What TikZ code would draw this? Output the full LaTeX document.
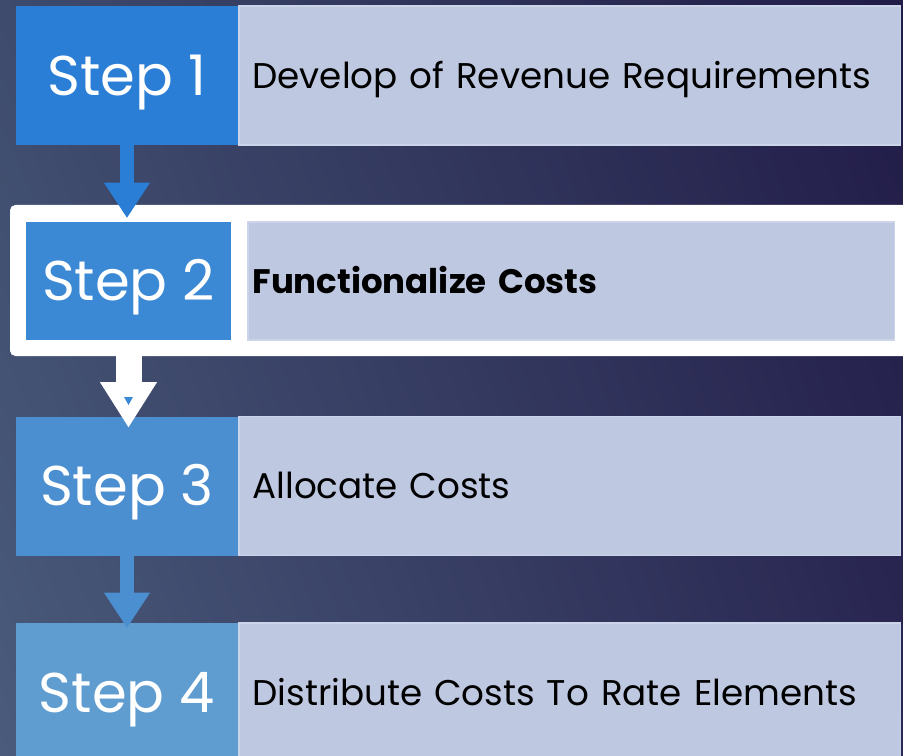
\documentclass[tikz,border=0pt]{standalone}
\usepackage{fontspec}
\setmainfont{Poppins}
\usetikzlibrary{positioning,arrows.meta,shadings}

\definecolor{bgUL}{HTML}{3E4B6C}
\definecolor{bgLL}{HTML}{4A5B7B}
\definecolor{bgUR}{HTML}{211C48}
\definecolor{bgLR}{HTML}{2A2853}
\definecolor{stepA}{HTML}{2A7ED6}
\definecolor{stepB}{HTML}{3B89D4}
\definecolor{stepC}{HTML}{4B8FD0}
\definecolor{stepD}{HTML}{5F9CCF}
\definecolor{infofill}{HTML}{BEC8E0}
\definecolor{infoedge}{HTML}{CCD4EA}

\begin{document}
\begin{tikzpicture}[x=0.75pt,y=-0.75pt,
    stepbox/.style={fill=#1, text=white, inner sep=0pt,
      minimum width=166.5pt, minimum height=104.25pt,
      text height=29.6pt, text depth=0pt,
      font=\fontsize{42}{50}\selectfont},
    infobox/.style={fill=infofill, draw=infoedge, line width=1.2pt,
      anchor=west, inner xsep=10pt, text width=476pt, align=left,
      text height=18.8pt, text depth=0pt,
      minimum height=104.25pt, font=\fontsize{26.8}{32}\selectfont},
    bluearrow/.style={draw=#1, line width=10.5pt,
      -{Triangle[width=34.5pt, length=26.25pt, line width=0pt]}},
    whitearrow/.style={draw=white, line width=19.5pt,
      -{Triangle[width=42.75pt, length=33.75pt, line width=0pt]}}]
  \useasboundingbox (0,0) rectangle (903,756);
  \clip (0,0) rectangle (903,756);

  % Background
  \shade[upper left=bgUL, lower left=bgLL, upper right=bgUR, lower right=bgLR]
    (0,0) rectangle (903,756);

  % White frame round the current step
  \fill[white, rounded corners=4pt] (10,205) rectangle (930,356);

  % Step boxes
  \node[stepbox=stepA] (s1) at (127,75.5) {Step 1};
  \node[stepbox=stepB, minimum width=153.75pt, minimum height=88.5pt] (s2) at (128.5,281) {Step 2};
  \node[stepbox=stepC] (s3) at (127,486) {Step 3};
  \node[stepbox=stepD] (s4) at (127,692.5) {Step 4};

  % Descriptions
  \node[infobox] (d1) at (s1.east) {Develop of Revenue Requirements};
  \node[infobox, inner xsep=3.5pt, text width=478pt, minimum height=88.5pt,
    font=\fontsize{25.5}{32}\selectfont, text height=18pt] (d2) at (247,281) {\textbf{Functionalize Costs}};
  \node[infobox] (d3) at (s3.east) {Allocate Costs};
  \node[infobox] (d4) at (s4.east) {Distribute Costs To Rate Elements};

  % Arrows between the steps
  \draw[bluearrow=stepA] (s1.south) -- ([yshift=3pt]s1.south |- s2.north);
  \draw[whitearrow] (s2.south) -- ([yshift=-8.25pt]s2.south |- s3.north);
  \coordinate (peek) at (124,397);
  \fill[stepB] (peek) -- ++(9,0) -- ++(-4.5,8) -- cycle;
  \draw[bluearrow=stepC] (s3.south) -- ([yshift=-3.75pt]s3.south |- s4.north);

\end{tikzpicture}
\end{document}
